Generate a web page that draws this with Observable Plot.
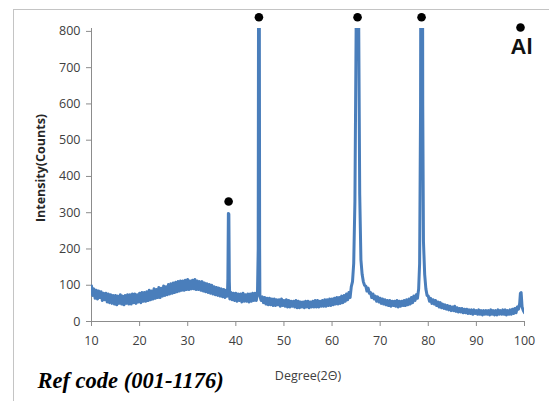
<!DOCTYPE html>
<html>
<head>
<meta charset="utf-8">
<script src="https://cdn.jsdelivr.net/npm/d3@7"></script>
<script src="https://cdn.jsdelivr.net/npm/@observablehq/plot@0.6"></script>
<style>
  html, body { margin: 0; padding: 0; background: #fff; overflow: hidden; }
  #wrap { position: relative; width: 549px; height: 401px; overflow: hidden; }
  #border { position: absolute; left: 13px; top: 9px; width: 600px; height: 500px; border: 1.5px solid #c4c4c4; box-sizing: border-box; }
  #chart { position: absolute; left: 0; top: 0; }
</style>
</head>
<body>
<div id="wrap"><div id="border"></div><div id="chart"></div></div>
<script>
// 2θ positions (degrees) and intensities (counts)
const twoTheta = [
  10,10.25,10.5,10.75, 11,11.25,11.5,11.75, 12,12.25,12.5,12.75, 13,13.25,13.5,13.75,
  14,14.25,14.5,14.75, 15,15.25,15.5,15.75, 16,16.25,16.5,16.75, 17,17.25,17.5,17.75,
  18,18.25,18.5,18.75, 19,19.25,19.5,19.75, 20,20.25,20.5,20.75, 21,21.25,21.5,21.75,
  22,22.25,22.5,22.75, 23,23.25,23.5,23.75, 24,24.25,24.5,24.75, 25,25.25,25.5,25.75,
  26,26.25,26.5,26.75, 27,27.25,27.5,27.75, 28,28.25,28.5,28.75, 29,29.25,29.5,29.75,
  30,30.25,30.5,30.75, 31,31.25,31.5,31.75, 32,32.25,32.5,32.75, 33,33.25,33.5,33.75,
  34,34.25,34.5,34.75, 35,35.25,35.5,35.75, 36,36.25,36.5,36.75, 37,37.25,37.5,37.75,
  38,38.25,38.35,38.45,38.55,38.65,38.75,
  39,39.25,39.5,39.75, 40,40.25,40.5,40.75, 41,41.25,41.5,41.75, 42,42.25,42.5,42.75,
  43,43.25,43.5,43.75,
  44,44.25,44.5,44.65,44.75,44.85,44.95,45, 45.25,45.5,45.75,
  46,46.25,46.5,46.75, 47,47.25,47.5,47.75, 48,48.25,48.5,48.75, 49,49.25,49.5,49.75,
  50,50.25,50.5,50.75, 51,51.25,51.5,51.75, 52,52.25,52.5,52.75, 53,53.25,53.5,53.75,
  54,54.25,54.5,54.75, 55,55.25,55.5,55.75, 56,56.25,56.5,56.75, 57,57.25,57.5,57.75,
  58,58.25,58.5,58.75, 59,59.25,59.5,59.75, 60,60.25,60.5,60.75, 61,61.25,61.5,61.75,
  62,62.25,62.5,62.75, 63,63.25,63.5,63.75,
  64,64.25,64.5,64.75,65,65.15,65.4,65.55,65.75, 66,66.25,66.5,66.75,
  67,67.25,67.5,67.75, 68,68.25,68.5,68.75, 69,69.25,69.5,69.75, 70,70.25,70.5,70.75,
  71,71.25,71.5,71.75, 72,72.25,72.5,72.75, 73,73.25,73.5,73.75, 74,74.25,74.5,74.75,
  75,75.25,75.5,75.75, 76,76.25,76.5,76.75, 77,77.25,77.5,77.75,
  78,78.2,78.4,78.5,78.75,78.85,79,79.25,79.5,79.75,
  80,80.25,80.5,80.75, 81,81.25,81.5,81.75, 82,82.25,82.5,82.75, 83,83.25,83.5,83.75,
  84,84.25,84.5,84.75, 85,85.25,85.5,85.75, 86,86.25,86.5,86.75, 87,87.25,87.5,87.75,
  88,88.25,88.5,88.75, 89,89.25,89.5,89.75, 90,90.25,90.5,90.75, 91,91.25,91.5,91.75,
  92,92.25,92.5,92.75, 93,93.25,93.5,93.75, 94,94.25,94.5,94.75, 95,95.25,95.5,95.75,
  96,96.25,96.5,96.75, 97,97.25,97.5,97.75, 98,98.25,98.5,98.75,
  99,99.15,99.3,99.5,99.75, 100
];
const counts = [
  98,72,90,64, 86,62,84,66, 82,58,78,60, 78,54,76,52,
  74,50,72,48, 72,46,70,50, 74,48,70,46, 72,50,74,48,
  74,48,76,52, 76,50,74,54, 78,52,80,56, 80,56,82,58,
  86,60,84,62, 90,64,88,66, 94,66,92,70, 98,72,96,74,
  102,76,104,78, 106,80,108,82, 110,84,112,86, 112,86,114,88,
  116,88,112,90, 114,90,116,88, 112,88,110,86, 110,84,106,82,
  104,80,102,78, 100,76,96,74, 94,72,92,70, 90,68,88,66,
  86,70,120,298,296,110,62,
  80,60,78,58, 78,56,76,58, 76,54,78,56, 74,56,76,54,
  76,56,78,58,
  78,58,80,200,1200,1200,200,70, 58,68,52,
  66,48,64,46, 64,46,62,44, 62,44,60,46, 60,42,62,44,
  58,42,60,40, 58,40,56,42, 56,40,58,38, 56,38,54,40,
  54,38,56,40, 56,38,54,40, 56,40,58,40, 58,40,56,42,
  58,42,60,42, 60,44,62,44, 62,46,64,48, 66,48,66,50,
  70,52,72,56, 76,60,80,66,
  96,110,160,330,800,1500,1500,800,350, 170,130,110,100,
  98,84,92,78, 80,66,76,62, 70,56,68,54, 64,50,62,48,
  60,46,58,44, 58,42,56,44, 56,42,58,40, 56,42,56,44,
  58,44,60,46, 62,48,66,52, 70,58,74,64,
  90,160,600,1500,1500,600,220,130,90,72,
  70,56,64,50, 60,48,58,44, 54,40,52,38, 48,36,46,34,
  44,32,42,30, 40,30,42,28, 38,26,36,26, 36,24,34,24,
  34,22,32,22, 32,20,32,22, 30,20,32,20, 30,18,30,20,
  30,20,30,18, 32,20,30,18, 30,18,32,20, 30,20,32,20,
  32,18,30,20, 32,20,34,22, 36,24,40,34,
  50,78,80,40,30, 24
];
// Al reflection markers
const alPeaks = [38.5, 44.8, 65.3, 78.6];
const alMarkerCounts = [331, 839, 839, 839];
const xTicks = [10, 20, 30, 40, 50, 60, 70, 80, 90, 100];
const yTicks = [0, 100, 200, 300, 400, 500, 600, 700, 800];
const xLabel = "Degree(2\u0398)";
const yLabel = "Intensity(Counts)";
const legendLabel = "Al";
const refCode = "Ref code (001-1176)";

const scan = twoTheta.map((d, i) => ({deg: d, cnt: counts[i]}));
const markers = alPeaks.map((d, i) => ({deg: d, cnt: alMarkerCounts[i]}));

const axisColor = "#8c8c8c";
const tickFont = "Open Sans, sans-serif";

const chart = Plot.plot({
  width: 549,
  height: 401,
  marginLeft: 91,
  marginRight: 25,
  marginTop: 28,
  marginBottom: 80,
  style: {fontFamily: tickFont, fontSize: "12.5px", color: "#404040", background: "transparent"},
  x: {domain: [10, 100], ticks: xTicks, label: null},
  y: {domain: [0, 808], ticks: yTicks, label: null},
  marks: [
    Plot.ruleX([10], {stroke: axisColor, strokeWidth: 1}),
    Plot.ruleY([0], {stroke: axisColor, strokeWidth: 1}),
    Plot.axisY({ticks: yTicks, tickSize: 5, tickPadding: 6, stroke: axisColor, label: null, fill: "#404040"}),
    Plot.axisX({ticks: xTicks, tickSize: 5, tickPadding: 10, stroke: axisColor, label: null, fill: "#404040"}),
    Plot.line(scan, {x: "deg", y: "cnt", stroke: "#4a7ebb", strokeWidth: 3, strokeLinejoin: "round", clip: true}),
    Plot.dot(markers, {x: "deg", y: "cnt", r: 4.3, fill: "black", stroke: "none"}),
    Plot.dot([legendLabel], {frameAnchor: "top-right", dx: -4, dy: -1, r: 4.3, fill: "black", stroke: "none"}),
    Plot.text([legendLabel], {frameAnchor: "top-right", dx: -3, dy: 10, text: d => d, fontSize: 22, fontWeight: "bold", fontFamily: "Liberation Sans, Arial, sans-serif", fill: "#111", textAnchor: "middle"}),
    Plot.text([yLabel], {frameAnchor: "left", dx: -51, dy: -7, rotate: -90, text: d => d, fontSize: 12.5, fontWeight: "bold", fill: "#262626", textAnchor: "middle"}),
    Plot.text([xLabel], {frameAnchor: "bottom", dy: 58, text: d => d, fontSize: 12.5, fill: "#404040", textAnchor: "middle"}),
    Plot.text([refCode], {frameAnchor: "bottom-left", dx: -54, dy: 66, text: d => d, fontSize: 22.5, fontWeight: "bold", fontStyle: "italic", fontFamily: "Liberation Serif, Times New Roman, serif", fill: "#000", textAnchor: "start"})
  ]
});
document.getElementById("chart").appendChild(chart);
</script>
</body>
</html>
